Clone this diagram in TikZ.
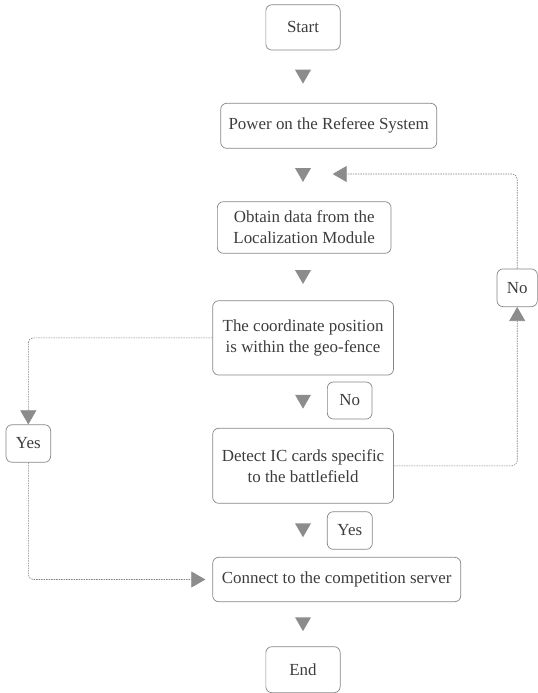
\documentclass[tikz,border=0pt]{standalone}
\usepackage{fontspec}
\setmainfont{Liberation Serif}
\usetikzlibrary{shapes.geometric,arrows.meta,calc}
\definecolor{boxline}{HTML}{858585}
\definecolor{txt}{HTML}{3C3C3C}
\definecolor{tipgray}{HTML}{8C8C8E}
\definecolor{dotgray}{HTML}{7E7E7E}
\tikzset{
  stepbox/.style={draw=boxline, line width=0.7bp, rounded corners=6bp,
    text=txt, align=center, inner sep=0pt,
    font=\fontsize{17}{21}\selectfont},
  downtip/.style={regular polygon, regular polygon sides=3, shape border rotate=180,
    minimum size=18.5bp, inner sep=0pt, fill=tipgray, draw=none, yshift=2.3bp},
  dotline/.style={draw=dotgray, line width=0.6bp, dash pattern=on 1.5bp off 1bp,
    rounded corners=5bp, -{Triangle[width=16bp,length=14bp,fill=tipgray,color=tipgray]}}
}
\begin{document}
\begin{tikzpicture}[x=1bp,y=-1bp]
\useasboundingbox (0,0) rectangle (538,693);

% main column
\node[stepbox, minimum width=74.3bp, minimum height=45.3bp] (start) at (303,27.4) {Start};
\node[stepbox, minimum width=216bp, minimum height=45bp] (power) at (328.7,125.8) {Power on the Referee System};
\node[stepbox, minimum width=173.7bp, minimum height=51.6bp] (obtain) at (304.2,227.5) {Obtain data from the\\Localization Module};
\node[stepbox, minimum width=180.8bp, minimum height=74.3bp] (coord) at (303.1,337.9) {The coordinate position\\is within the geo-fence};
\node[stepbox, minimum width=180.8bp, minimum height=75bp] (detect) at (303.1,465.8) {Detect IC cards specific\\to the battlefield};
\node[stepbox, minimum width=248bp, minimum height=44.4bp] (connect) at (336.7,579.5) {Connect to the competition server};
\node[stepbox, minimum width=74.3bp, minimum height=46bp] (end) at (303,669.7) {End};

% branch labels
\node[stepbox, minimum width=44.7bp, minimum height=37bp] (nomid) at (349.7,400.5) {No};
\node[stepbox, minimum width=45bp, minimum height=37.6bp] (yesmid) at (349.8,530.5) {Yes};
\node[stepbox, minimum width=44.7bp, minimum height=37.5bp] (yesleft) at (28.3,443.5) {Yes};
\node[stepbox, minimum width=40.3bp, minimum height=37.7bp] (noright) at (517.2,287.8) {No};

% flow markers between consecutive steps
\coordinate (m1) at ($(start.south)!.5!(power.north)$);
\coordinate (m2) at ($(power.south)!.5!(obtain.north)$);
\coordinate (m3) at ($(obtain.south)!.5!(coord.north)$);
\coordinate (m4) at ($(coord.south)!.5!(detect.north)$);
\coordinate (m5) at ($(detect.south)!.5!(connect.north)$);
\coordinate (m6) at ($(connect.south)!.5!(end.north)$);
\node[downtip] (t1) at (start |- m1) {};
\node[downtip] (t2) at (start |- m2) {};
\node[downtip] (t3) at (start |- m3) {};
\node[downtip] (t4) at (start |- m4) {};
\node[downtip] (t5) at (start |- m5) {};
\node[downtip] (t6) at (start |- m6) {};

% loop back and branch connectors
\coordinate (loopend) at (332.7,174);
\draw[dotline] (coord.west) -| (yesleft.north);
\draw[dotline, shorten >=7bp] (yesleft.south) |- (connect.west);
\draw[dotline] (detect.east) -| (noright.south);
\draw[dotline] (noright.north) |- (loopend);
\end{tikzpicture}
\end{document}
